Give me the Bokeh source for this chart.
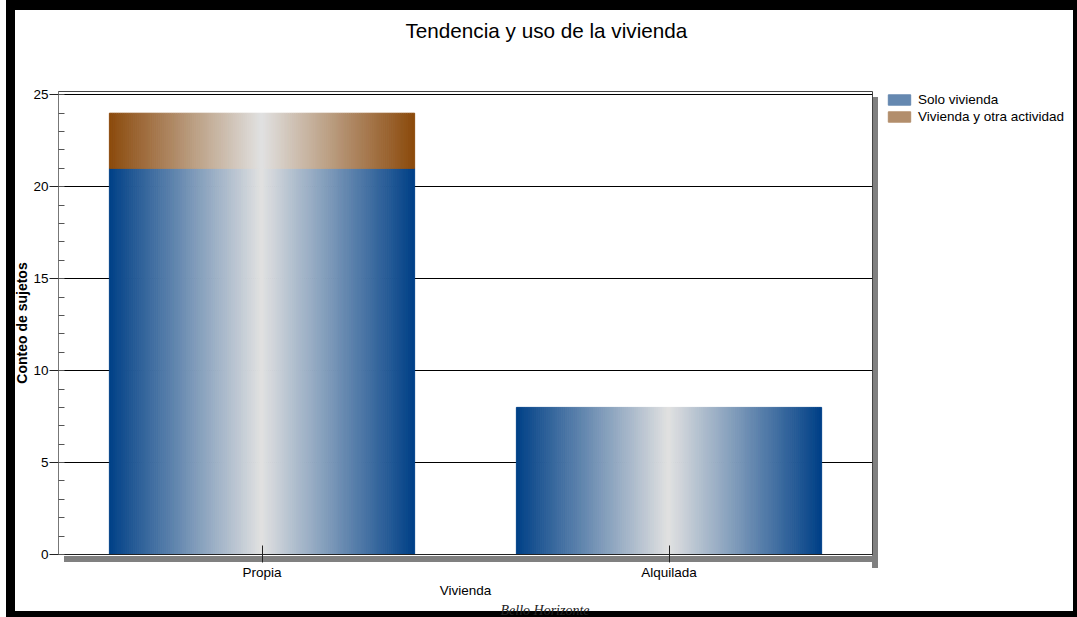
from bokeh.plotting import figure
from bokeh.layouts import row
from bokeh.models import (ColumnDataSource, Range1d, FixedTicker, Legend, LegendItem, Title)
from bokeh.embed import file_html
from bokeh.resources import INLINE

# ---- data -------------------------------------------------------------
categories = ["Propia", "Alquilada"]
series_names = ["Solo vivienda", "Vivienda y otra actividad"]
solo_vivienda = [21, 8]
vivienda_otra = [3, 0]
y_ticks = [0, 5, 10, 15, 20, 25]

# ---- style ------------------------------------------------------------
FONT = "Liberation Sans"
LABEL_SIZE = "13.5px"
EDGE_COLORS = [(0, 64, 135), (139, 74, 12)]   # bar edges per series
CENTER_COLOR = (225, 225, 225)                 # bright band in the middle
N_STRIPS = 150
BAR_WIDTH = 0.75

W, H = 1077, 617
CHART_W = 878                                          # main figure; legend panel to its right
F_LEFT, F_RIGHT, F_TOP, F_BOTTOM = 58, 872, 91, 555   # plotting area in page pixels
FRAME_W = F_RIGHT - F_LEFT
FRAME_H = F_BOTTOM - F_TOP
Y_MAX = 25.18


def blend(edge, t):
    rgb = [round(c + (e - c) * t) for c, e in zip(CENTER_COLOR, edge)]
    return "#%02x%02x%02x" % tuple(rgb)


def gradient_strips(values, bases, edge):
    """Split each bar into thin vertical strips shaded edge -> center -> edge."""
    data = dict(left=[], right=[], bottom=[], top=[], color=[])
    step = BAR_WIDTH / N_STRIPS
    for i, (v, b) in enumerate(zip(values, bases)):
        if v <= 0:
            continue
        x0 = i + 0.5 - BAR_WIDTH / 2
        for k in range(N_STRIPS):
            t = abs(2 * (k + 0.5) / N_STRIPS - 1)
            data["left"].append(x0 + k * step)
            data["right"].append(x0 + (k + 1) * step)
            data["bottom"].append(b)
            data["top"].append(b + v)
            data["color"].append(blend(edge, t))
    return ColumnDataSource(data)


p = figure(width=CHART_W, height=H, output_backend="svg", toolbar_location=None,
           x_range=Range1d(0, len(categories)), y_range=Range1d(0, Y_MAX),
           min_border_left=F_LEFT, min_border_right=CHART_W - F_RIGHT,
           min_border_top=F_TOP, min_border_bottom=H - F_BOTTOM)

p.background_fill_color = "white"
p.border_fill_alpha = 0
p.outline_line_color = "#444444"

# spacer so the heading sits near the top edge
p.add_layout(Title(text=" ", text_font_size="1px", standoff=42), "above")
p.add_layout(Title(text="Tendencia y uso de la vivienda", align="left", offset=347,
                   text_font=FONT, text_font_size="20.7px", text_font_style="normal",
                   text_color="black"), "above")

# stacked, gradient-shaded bars
bases = [0] * len(categories)
for values, edge in zip([solo_vivienda, vivienda_otra], EDGE_COLORS):
    src = gradient_strips(values, bases, edge)
    p.quad(left="left", right="right", bottom="bottom", top="top", source=src,
           fill_color="color", line_color="color", line_width=1)
    bases = [b + v for b, v in zip(bases, values)]

# axes
p.xgrid.visible = False
p.ygrid.grid_line_color = "black"
p.ygrid.grid_line_width = 1

p.xaxis.ticker = FixedTicker(ticks=[i + 0.5 for i in range(len(categories))])
p.xaxis.major_label_overrides = {i + 0.5: c for i, c in enumerate(categories)}
p.xaxis.minor_tick_line_color = None
p.xaxis.major_tick_in = 9
p.xaxis.major_tick_out = 8
p.xaxis.axis_line_color = "#222222"
p.xaxis.major_tick_line_color = "#222222"
p.xaxis.axis_label = "Vivienda"
p.xaxis.axis_label_standoff = 0
p.xaxis.major_label_standoff = 2

p.yaxis.ticker = FixedTicker(ticks=y_ticks, minor_ticks=list(range(0, 26)))
p.yaxis.major_tick_in = 0
p.yaxis.major_tick_out = 9
p.yaxis.minor_tick_in = 6
p.yaxis.minor_tick_out = 0
p.yaxis.axis_line_color = "#777777"
p.yaxis.major_tick_line_color = "#222222"
p.yaxis.minor_tick_line_color = "#555555"
p.yaxis.axis_label = "Conteo de sujetos"
p.yaxis.axis_label_standoff = 0
p.yaxis.major_label_standoff = 1
p.yaxis.axis_label_text_font_style = "bold"
p.yaxis.axis_label_text_font_size = "14px"

for ax in (p.xaxis[0], p.yaxis[0]):
    ax.major_label_text_font = FONT
    ax.major_label_text_font_size = LABEL_SIZE
    ax.major_label_text_color = "black"
    ax.axis_label_text_font = FONT
    ax.axis_label_text_color = "black"
p.xaxis.axis_label_text_font_size = LABEL_SIZE
p.xaxis.axis_label_text_font_style = "normal"

# caption under the axis title
p.add_layout(Title(text="Bello Horizonte", align="left", offset=442, standoff=0,
                   text_font="Liberation Serif", text_font_style="italic",
                   text_font_size="14px", text_color="#222222"), "below")

# ---- legend panel -----------------------------------------------------
# (its plotting area lines up with the chart's, top to bottom)
LEG_W = W - CHART_W
leg = figure(width=LEG_W, height=H, output_backend="svg", toolbar_location=None,
             x_range=Range1d(0, 1), y_range=Range1d(0, 1),
             x_axis_location=None, y_axis_location=None,
             min_border=0, min_border_left=0, min_border_right=0,
             min_border_top=0, min_border_bottom=0)
leg.grid.visible = False
leg.outline_line_color = None
leg.background_fill_alpha = 0
leg.border_fill_alpha = 0

# one keyed glyph per series, parked outside the legend panel's visible range
swatches = []
for edge in EDGE_COLORS:
    mid = blend(edge, 0.55)
    swatches.append(leg.quad(left=[2], right=[3], bottom=[2], top=[3],
                             fill_color=mid, line_color=mid))

legend = Legend(items=[LegendItem(label=n, renderers=[r], index=0)
                       for n, r in zip(series_names, swatches)],
                location=(F_RIGHT + 13 - CHART_W, FRAME_H - 34),
                padding=0, margin=0, spacing=2,
                glyph_width=28, glyph_height=13, label_height=13,
                label_standoff=5, label_text_font=FONT, label_text_font_size=LABEL_SIZE,
                label_text_color="black", border_line_color=None,
                background_fill_alpha=0)
leg.add_layout(legend, "center")

# page frame (black rule round the chart) and drop shadow of the plotting area,
# painted behind the transparent canvases
def block(color, x, y, w, h):
    return f"linear-gradient({color},{color}) {x}px {y}px / {w}px {h}px no-repeat"

page = row(p, leg, spacing=0)
page.styles = {
    "background": ", ".join([
        block("#000", 6, 0, W - 6, 10),
        block("#000", 6, 0, 9, H),
        block("#000", W - 4, 0, 4, H),
        block("#000", 6, H - 6, W - 6, 6),
        block("#808080", F_RIGHT, F_TOP + 6, 6, FRAME_H + 7),
        block("#808080", F_LEFT + 6, F_BOTTOM + 1, FRAME_W, 6),
        "#ffffff",
    ])
}

open("out.html", "w").write(file_html(page, INLINE))
